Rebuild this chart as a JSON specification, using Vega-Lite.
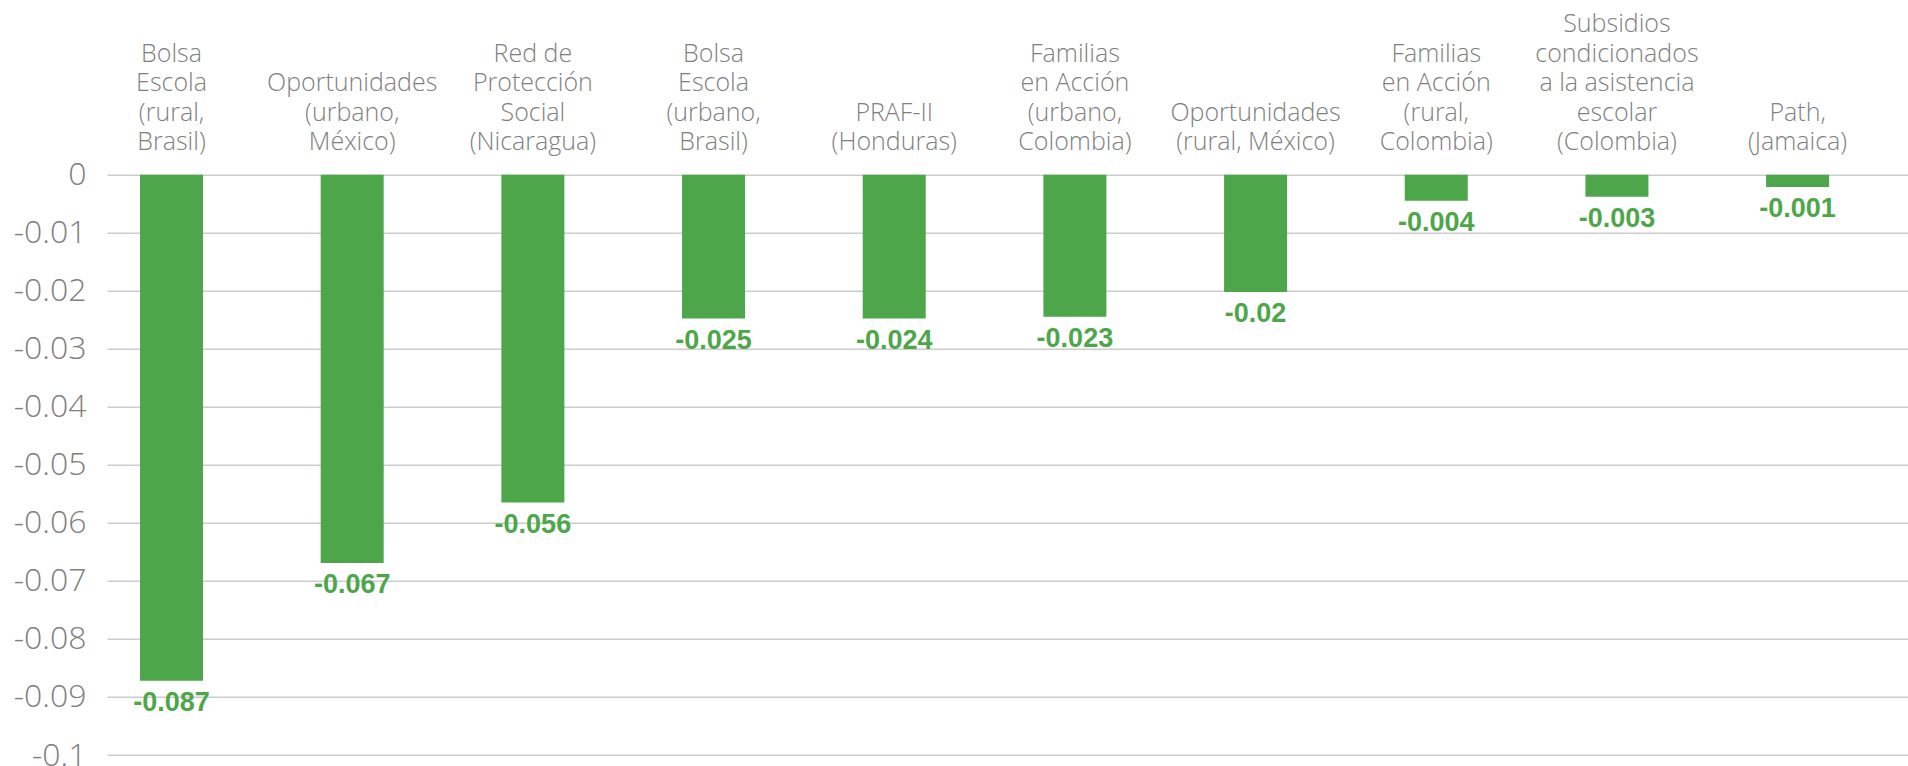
{
  "$schema": "https://vega.github.io/schema/vega-lite/v6.json",
  "autosize": "none",
  "width": 1801,
  "height": 580.3,
  "padding": {"left": 107, "top": 174.7, "right": 0, "bottom": 11},
  "background": "white",
  "config": {"view": {"stroke": null}},
  "data": {
    "values": [
      {"programa": "Bolsa|Escola|(rural,|Brasil)", "valor": -0.0872, "etiqueta": "-0.087"},
      {"programa": "Oportunidades|(urbano,|México)", "valor": -0.0669, "etiqueta": "-0.067"},
      {"programa": "Red de|Protección|Social|(Nicaragua)", "valor": -0.0565, "etiqueta": "-0.056"},
      {"programa": "Bolsa|Escola|(urbano,|Brasil)", "valor": -0.0248, "etiqueta": "-0.025"},
      {"programa": "PRAF-II|(Honduras)", "valor": -0.0248, "etiqueta": "-0.024"},
      {"programa": "Familias|en Acción|(urbano,|Colombia)", "valor": -0.0245, "etiqueta": "-0.023"},
      {"programa": "Oportunidades|(rural, México)", "valor": -0.0202, "etiqueta": "-0.02"},
      {"programa": "Familias|en Acción|(rural,|Colombia)", "valor": -0.0045, "etiqueta": "-0.004"},
      {"programa": "Subsidios|condicionados|a la asistencia|escolar|(Colombia)", "valor": -0.0038, "etiqueta": "-0.003"},
      {"programa": "Path,|(Jamaica)", "valor": -0.0021, "etiqueta": "-0.001"}
    ]
  },
  "encoding": {
    "x": {
      "field": "programa",
      "type": "nominal",
      "sort": null,
      "scale": {"paddingInner": 0.6513, "paddingOuter": 0.3097, "align": 0.295},
      "axis": {
        "orient": "top",
        "title": null,
        "domain": false,
        "ticks": false,
        "labelAngle": 0,
        "labelBaseline": "bottom",
        "labelExpr": "split(slice('\u200b|\u200b|\u200b|\u200b|', 0, 2 * (5 - length(split(datum.label, '|')))) + datum.label, '|')",
        "labelFont": "Open Sans",
        "labelFontWeight": 300,
        "labelFontSize": 25,
        "labelLineHeight": 29.5,
        "labelColor": "#7f7f7f",
        "labelPadding": 138,
        "labelLimit": 0
      }
    },
    "y": {
      "field": "valor",
      "type": "quantitative",
      "scale": {"domain": [-0.1, 0], "nice": false, "zero": false},
      "axis": {
        "title": null,
        "domain": false,
        "ticks": false,
        "values": [0, -0.01, -0.02, -0.03, -0.04, -0.05, -0.06, -0.07, -0.08, -0.09, -0.1],
        "labelExpr": "replace(format(datum.value, '~g'), '−', '-')",
        "labelFont": "Open Sans",
        "labelFontWeight": 300,
        "labelFontSize": 32,
        "labelColor": "#7f7f7f",
        "labelPadding": 21,
        "gridColor": "#cccccc",
        "gridWidth": 1.4
      }
    }
  },
  "layer": [
    {"mark": {"type": "bar", "color": "#4da64a"}, "encoding": {"y2": {"datum": 0}}},
    {
      "mark": {
        "type": "text",
        "font": "Liberation Sans",
        "fontWeight": "bold",
        "fontSize": 27,
        "color": "#4da64a",
        "baseline": "middle",
        "align": "center",
        "dy": 22
      },
      "encoding": {"text": {"field": "etiqueta"}}
    }
  ]
}
